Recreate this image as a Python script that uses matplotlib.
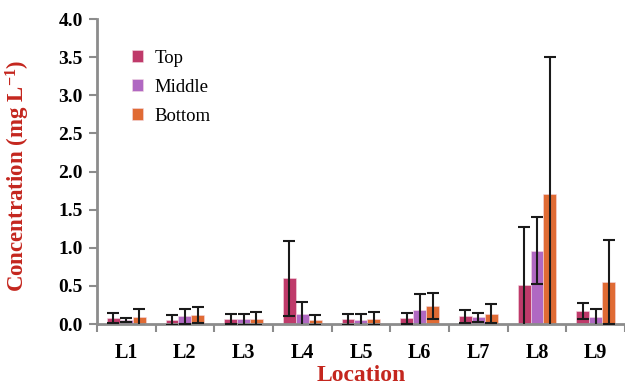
import matplotlib.pyplot as plt
import numpy as np

plt.rcParams['font.family'] = ['Liberation Serif', 'DejaVu Serif']
plt.rcParams['mathtext.fontset'] = 'custom'
plt.rcParams['mathtext.rm'] = 'Liberation Serif:bold'
plt.rcParams['mathtext.default'] = 'rm'

locations = ['L1', 'L2', 'L3', 'L4', 'L5', 'L6', 'L7', 'L8', 'L9']
top = [0.08, 0.055, 0.065, 0.60, 0.06, 0.075, 0.10, 0.51, 0.17]
top_err = [0.07, 0.065, 0.07, 0.49, 0.07, 0.075, 0.09, 0.76, 0.11]
middle = [0.05, 0.10, 0.06, 0.13, 0.055, 0.19, 0.09, 0.96, 0.09]
middle_err = [0.03, 0.10, 0.075, 0.155, 0.075, 0.21, 0.06, 0.44, 0.11]
bottom = [0.09, 0.115, 0.07, 0.055, 0.07, 0.235, 0.135, 1.70, 0.55]
bottom_err = [0.11, 0.105, 0.085, 0.065, 0.085, 0.175, 0.125, 1.80, 0.55]

colors = ['#BF3A6A', '#B068C2', '#E06B34']
red = '#C4261E'
grey = '#8C8C8C'

fig = plt.figure(figsize=(6.25, 3.86), dpi=100)
ax = fig.add_axes([0.155, 0.1606, 0.845, 0.79])

x = np.arange(len(locations))
w = 0.22
series = [('Top', top, top_err), ('Middle', middle, middle_err), ('Bottom', bottom, bottom_err)]
for i, (name, vals, errs) in enumerate(series):
    ax.bar(x + (i - 1) * w, vals, w, color=colors[i], edgecolor='#F4D9E2',
           linewidth=0.4, label=name, zorder=2)
    ax.errorbar(x + (i - 1) * w, vals, yerr=errs, fmt='none', ecolor='#1A1A1A',
                elinewidth=1.5, capsize=4.5, capthick=1.5, zorder=3)

ax.set_xlim(-0.5, 8.45)
ax.set_ylim(0, 4.0)
ax.set_yticks(np.arange(0, 4.01, 0.5))
ax.set_yticklabels(['%.1f' % v for v in np.arange(0, 4.01, 0.5)],
                   fontsize=14, fontweight='bold')
ax.set_xticks(x)
ax.set_xticklabels(locations, fontsize=14.5, fontweight='bold')
ax.set_xticks(np.arange(-0.5, 9, 1), minor=True)
ax.tick_params(axis='x', which='major', length=0, pad=14)
ax.tick_params(axis='x', which='minor', length=6, width=1.5, color=grey)
ax.tick_params(axis='y', length=6, width=1.5, color=grey, pad=4)

for s in ['top', 'right']:
    ax.spines[s].set_visible(False)
for s in ['left', 'bottom']:
    ax.spines[s].set_color(grey)
    ax.spines[s].set_linewidth(2)

ax.set_ylabel('Concentration (mg L$^{-1}$)', fontsize=16.5,
              fontweight='bold', color=red)
ax.yaxis.set_label_coords(-0.122, 0.485)
ax.set_xlabel('Location', fontsize=17, fontweight='bold', color=red, labelpad=1)

leg = ax.legend(loc='upper left', bbox_to_anchor=(0.035, 0.955), frameon=False,
                fontsize=13.5, handlelength=0.6, handleheight=0.6,
                handletextpad=0.6, labelspacing=0.65)

fig.savefig('out.png', dpi=100)
